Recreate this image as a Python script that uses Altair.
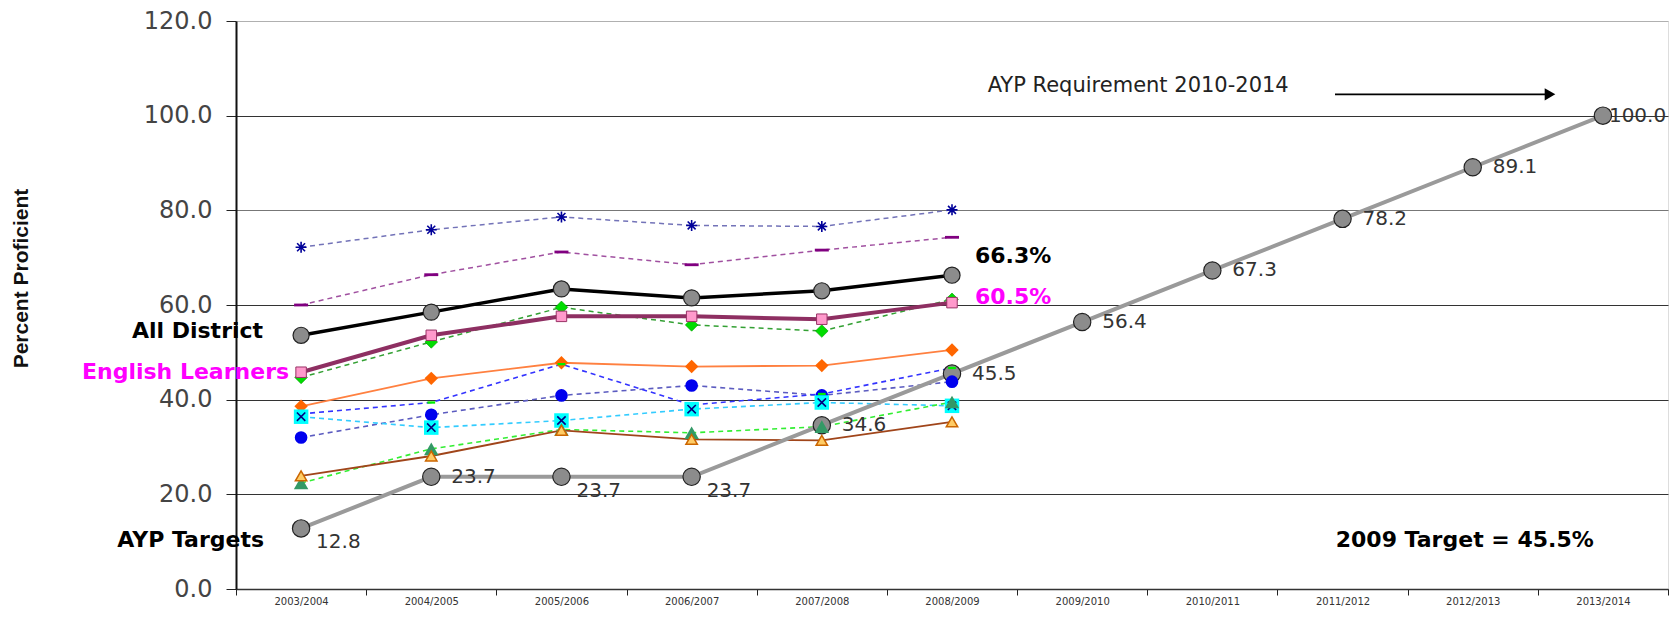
import altair as alt
import pandas as pd

# ---------------- data ----------------
years = ["2003/2004", "2004/2005", "2005/2006", "2006/2007", "2007/2008", "2008/2009",
         "2009/2010", "2010/2011", "2011/2012", "2012/2013", "2013/2014"]
ayp_targets = [12.8, 23.7, 23.7, 23.7, 34.6, 45.5, 56.4, 67.3, 78.2, 89.1, 100.0]
grp_years = years[:6]
asterisk_group = [72.2, 75.9, 78.6, 76.8, 76.6, 80.1]
purple_group = [60.0, 66.4, 71.2, 68.5, 71.6, 74.3]
all_district = [53.6, 58.5, 63.4, 61.5, 63.0, 66.3]
green_diamond_group = [44.7, 52.2, 59.5, 55.8, 54.5, 61.2]
english_learners = [45.8, 53.6, 57.6, 57.6, 57.0, 60.5]
orange_group = [38.6, 44.5, 47.8, 47.0, 47.2, 50.5]
blue_dash_group = [37.0, 39.4, 47.5, 38.9, 41.2, 46.7]
blue_circle_group = [32.0, 36.8, 40.9, 43.0, 40.9, 43.8]
cyan_group = [36.4, 34.1, 35.6, 38.0, 39.4, 38.7]
green_triangle_group = [22.4, 29.6, 33.7, 33.0, 34.3, 39.5]
brown_group = [23.9, 28.1, 33.5, 31.6, 31.4, 35.3]
y_ticks = [0, 20, 40, 60, 80, 100, 120]

PLOT_W, PLOT_H = 1432, 568

# ---------------- shared encodings ----------------
X_SCALE = alt.Scale(type="band", domain=years, paddingInner=0, paddingOuter=0)
X_AXIS = alt.Axis(title=None, tickBand="extent", domainColor="#333", domainWidth=1.5,
                  tickColor="#222", tickSize=6, labelFontSize=10, labelColor="#333",
                  labelPadding=1, labelAngle=0, grid=False, labelFont="DejaVu Sans")
Y_SCALE = alt.Scale(domain=[0, 120], nice=False, zero=True)
Y_AXIS = alt.Axis(title="Percent Proficient", values=y_ticks, format=".1f",
                  titleAngle=270, titleX=-215, titleY=257, titleAlign="center",
                  titleBaseline="middle", titleFont="Liberation Sans", titleFontWeight="bold",
                  titleFontSize=21, titleColor="#111",
                  labelFont="DejaVu Sans", labelFontSize=24, labelColor="#444",
                  labelPadding=14, tickSize=10, tickColor="#222", tickWidth=1,
                  domainColor="#111", domainWidth=2, grid=True, gridWidth=1.2,
                  gridColor={"condition": [{"test": "datum.value == 120", "value": "#b0b0b0"},
                                           {"test": "datum.value == 80", "value": "#777777"}],
                             "value": "#333333"})

X = alt.X("year:N", scale=X_SCALE, axis=X_AXIS)
Y = alt.Y("value:Q", scale=Y_SCALE, axis=Y_AXIS)


def frame(vals, yrs=grp_years):
    return pd.DataFrame({"year": yrs, "value": vals})


def line_layer(vals, color, width, dash=None, yrs=grp_years):
    kw = dict(color=color, strokeWidth=width)
    if dash:
        kw["strokeDash"] = dash
    return alt.Chart(frame(vals, yrs)).mark_line(**kw).encode(x=X, y=Y)


def point_layer(vals, shape, size, fill=None, stroke=None, sw=0.0, yrs=grp_years):
    kw = dict(shape=shape, size=size, opacity=1)
    if fill:
        kw["filled"] = True
        kw["fill"] = fill
    else:
        kw["filled"] = False
        kw["fill"] = "transparent"
    if stroke:
        kw["stroke"] = stroke
        kw["strokeWidth"] = sw
    else:
        kw["strokeWidth"] = 0
    return alt.Chart(frame(vals, yrs)).mark_point(**kw).encode(x=X, y=Y)


def note(text, year, value, dx, align, color="#000", size=22, weight="bold",
         font="DejaVu Sans"):
    df = pd.DataFrame({"year": [year], "value": [value], "label": [text]})
    return alt.Chart(df).mark_text(align=align, baseline="middle", dx=dx, color=color,
                                   fontSize=size, fontWeight=weight, font=font).encode(
        x=X, y=Y, text="label:N")


ASTERISK = "M-1,0H1M0,-1V1M-0.72,-0.72L0.72,0.72M-0.72,0.72L0.72,-0.72"
XMARK = "M-1,-1L1,1M-1,1L1,-1"
BAR = "M-1,-0.2H1V0.2H-1Z"
SMALLBAR = "M-1,-0.3H1V0.3H-1Z"

dash = [5, 4]

lines = [
    line_layer(asterisk_group, "#7373b8", 1.5, dash),
    line_layer(purple_group, "#a050a0", 1.5, dash),
    line_layer(green_diamond_group, "#33a033", 1.5, dash),
    line_layer(orange_group, "#ff8040", 1.8),
    line_layer(blue_circle_group, "#5c5cc0", 1.6, dash),
    line_layer(blue_dash_group, "#3333ff", 1.6, dash),
    line_layer(cyan_group, "#33ccff", 1.6, dash),
    line_layer(green_triangle_group, "#33ee33", 1.6, dash),
    line_layer(brown_group, "#a0451a", 1.8),
    line_layer(english_learners, "#8e2f62", 4),
    line_layer(all_district, "#000000", 3.5),
    line_layer(ayp_targets, "#9a9a9a", 4, yrs=years),
]

points = [
    point_layer(ayp_targets, "circle", 300, fill="#8c8c8c", stroke="#222", sw=1.2, yrs=years),
    point_layer(asterisk_group, ASTERISK, 121, stroke="#000099", sw=1.6),
    point_layer(purple_group, BAR, 196, fill="#800080"),
    point_layer(green_diamond_group, "diamond", 160, fill="#00dd00", stroke="#009900", sw=0.6),
    point_layer(orange_group, "diamond", 180, fill="#ff6600"),
    point_layer(blue_circle_group, "circle", 160, fill="#0000ee"),
    point_layer(blue_dash_group, SMALLBAR, 60, fill="#00ee00"),
    point_layer(cyan_group, "square", 210, fill="#00ffff"),
    point_layer(cyan_group, XMARK, 70, stroke="#000080", sw=1.6),
    point_layer(green_triangle_group, "triangle-up", 210, fill="#339966"),
    point_layer(brown_group, "triangle-up", 130, fill="#ffcc66", stroke="#cc6600", sw=1.5),
    point_layer(english_learners, "square", 110, fill="#ff99cc", stroke="#993366", sw=1),
    point_layer(all_district, "circle", 260, fill="#8c8c8c", stroke="#222", sw=1.2),
]

ayp_df = pd.DataFrame({"year": years, "value": ayp_targets,
                       "label": [f"{v:.1f}" for v in ayp_targets]})
ayp_base = alt.Chart(ayp_df).encode(x=X, y=Y, text="label:N")
lbl_style = dict(align="left", baseline="middle", color="#333", fontSize=20, font="DejaVu Sans")
ayp_labels = [
    ayp_base.transform_filter(
        alt.FieldOneOfPredicate(field="year", oneOf=[years[1], years[4], years[5], years[6],
                                                     years[7], years[8], years[9]])
    ).mark_text(dx=20, **lbl_style),
    ayp_base.transform_filter(
        alt.FieldOneOfPredicate(field="year", oneOf=[years[0], years[2], years[3]])
    ).mark_text(dx=15, dy=14, **lbl_style),
    ayp_base.transform_filter(
        alt.FieldOneOfPredicate(field="year", oneOf=[years[10]])
    ).mark_text(dx=6, **lbl_style),
]

notes = [
    note("All District", years[0], 54.5, -38, "right"),
    note("English Learners", years[0], 45.8, -12, "right", color="#ff00ff"),
    note("AYP Targets", years[0], 10.4, -37, "right"),
    note("66.3%", years[5], 70.4, 23, "left"),
    note("60.5%", years[5], 61.6, 23, "left", color="#ff00ff"),
    note("2009 Target = 45.5%", years[9], 10.4, -8, "center"),
    note("AYP Requirement 2010-2014", years[6], 106.2, 56, "center", color="#222",
         size=21, weight="normal"),
]

arrow_df = pd.DataFrame({"value": [104.5]})
arrow = [
    alt.Chart(arrow_df).mark_rule(color="#000", strokeWidth=1.6).encode(
        x=alt.value(1099), x2=alt.value(1310), y=alt.Y("value:Q", scale=Y_SCALE, axis=Y_AXIS)),
    alt.Chart(arrow_df).mark_point(shape="triangle-right", filled=True, fill="#000",
                                   size=150, opacity=1, strokeWidth=0).encode(
        x=alt.value(1314), y=alt.Y("value:Q", scale=Y_SCALE, axis=Y_AXIS)),
]

chart = alt.layer(*lines, *points, *ayp_labels, *notes, *arrow).properties(
    width=PLOT_W, height=PLOT_H,
    padding={"left": 228, "top": 13, "right": 1, "bottom": 21},
    autosize=alt.AutoSizeParams(type="none"),
).configure_view(stroke="#9a9a9a", strokeWidth=1).configure(background="white")

chart.save("out.html", embed_options={"renderer": "svg", "actions": False})
